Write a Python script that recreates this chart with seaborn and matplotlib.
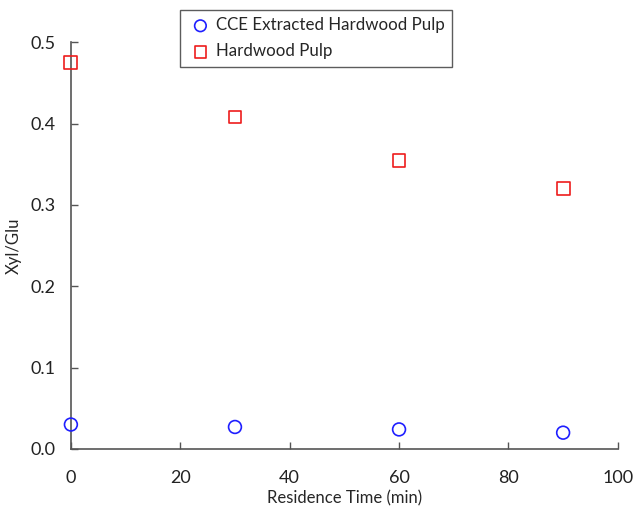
import matplotlib
matplotlib.use("Agg")
import matplotlib.pyplot as plt
import seaborn as sns

time_min = [0, 30, 60, 90]
cce_extracted = [0.030, 0.027, 0.024, 0.020]
hardwood = [0.475, 0.408, 0.355, 0.320]
series_names = ["CCE Extracted Hardwood Pulp", "Hardwood Pulp"]
x_ticks = [0, 20, 40, 60, 80, 100]
y_ticks = [0.0, 0.1, 0.2, 0.3, 0.4, 0.5]

sns.set_style("white")
plt.rcParams["font.family"] = ["Lato", "DejaVu Sans"]

fig = plt.figure(figsize=(6.33, 5.09), dpi=100)
ax = fig.add_axes([0.112, 0.118, 0.864, 0.799])

for name, vals, mk, col in [(series_names[0], cce_extracted, "o", "#1f1fff"),
                            (series_names[1], hardwood, "s", "#ee1c1c")]:
    sns.scatterplot(x=time_min, y=vals, marker=mk, s=85, facecolors="none",
                    edgecolor=col, linewidth=1.2, ax=ax, label=name, zorder=3,
                    clip_on=False)

ax.set_xlim(0, 100)
ax.set_ylim(0, 0.5)
ax.set_xticks(x_ticks)
ax.set_yticks(y_ticks)
ax.set_yticklabels([f"{v:.1f}" for v in y_ticks])
ax.set_xlabel("Residence Time (min)", fontsize=12, labelpad=3)
ax.set_ylabel("Xyl/Glu", fontsize=12, labelpad=6)
ax.tick_params(axis="both", direction="in", length=5, width=1, color="#555555",
               labelsize=13, bottom=True, left=True, labelcolor="#222222")
ax.tick_params(axis="x", pad=15)
ax.tick_params(axis="y", pad=11)
for side in ["top", "right"]:
    ax.spines[side].set_visible(False)
for side in ["left", "bottom"]:
    ax.spines[side].set_color("#555555")
    ax.spines[side].set_linewidth(1.2)

leg = ax.legend(loc="upper left", bbox_to_anchor=(0.199, 1.079), borderaxespad=0,
                frameon=True, fancybox=False, edgecolor="#333333", fontsize=12.2,
                handletextpad=0.1, borderpad=0.42, labelspacing=0.6,
                handlelength=1.6, markerscale=0.9)
leg.get_frame().set_linewidth(1.0)

fig.savefig("out.png", dpi=100)
